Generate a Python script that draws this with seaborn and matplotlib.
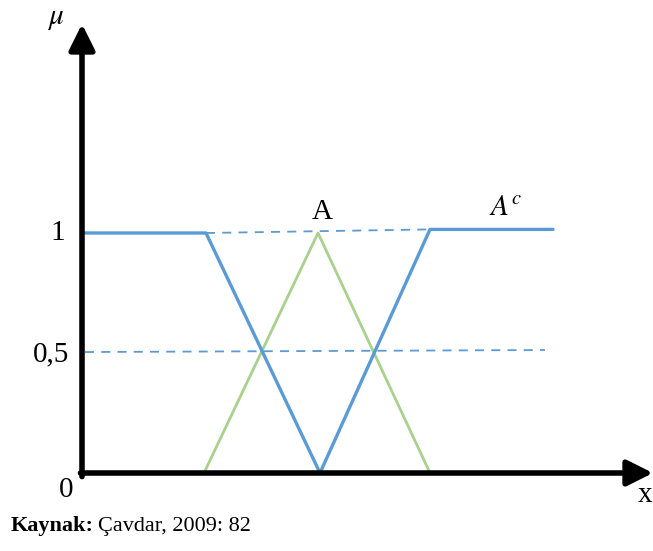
import matplotlib
matplotlib.use("Agg")
import matplotlib.pyplot as plt
import seaborn as sns
import pandas as pd

sns.set_theme(style="white")
plt.rcParams['font.family'] = ['Liberation Serif', 'DejaVu Serif']
plt.rcParams['mathtext.fontset'] = 'stix'
plt.rcParams['text.color'] = 'black'

# Data (x in arbitrary units, mu membership)
comp_x = [0.0, 1.24, 2.38, 3.48, 4.71]          # A^c (complement)
comp_mu = [1.0, 1.0, 0.0, 1.015, 1.015]
a_x = [1.22, 2.36, 3.48]                         # A (triangle)
a_mu = [0.0, 1.0, 0.0]
dash1_x = [1.24, 3.48]
dash1_mu = [1.0, 1.015]
dash05_x = [0.03, 4.63]
dash05_mu = [0.504, 0.5125]
ytick_vals = [1.0, 0.5, 0.0]
ytick_labels = ["1", "0,5", "0"]

blue = "#5B9BD5"
green = "#A9D18E"

fig = plt.figure(figsize=(6.53, 5.51), dpi=100)
ax = fig.add_axes([0, 0, 1, 1])
ax.set_xlim(-0.82, 5.71)
ax.set_ylim((473 - 551) / 240, 473 / 240)
ax.axis("off")

# dashed guides
d1 = pd.DataFrame({"x": dash1_x, "mu": dash1_mu})
d05 = pd.DataFrame({"x": dash05_x, "mu": dash05_mu})
sns.lineplot(data=d1, x="x", y="mu", ax=ax, color=blue, lw=1.3, sort=False, estimator=None)
ax.lines[-1].set_dashes([5, 4])
sns.lineplot(data=d05, x="x", y="mu", ax=ax, color=blue, lw=1.3, sort=False, estimator=None)
ax.lines[-1].set_dashes([5, 4])

# membership functions
dfa = pd.DataFrame({"x": a_x, "mu": a_mu})
dfc = pd.DataFrame({"x": comp_x, "mu": comp_mu})
sns.lineplot(data=dfa, x="x", y="mu", ax=ax, color=green, lw=2.0, sort=False, estimator=None)
sns.lineplot(data=dfc, x="x", y="mu", ax=ax, color=blue, lw=2.4, sort=False, estimator=None)

# axes arrows
astyle = "-|>,head_length=1.3,head_width=0.65"
ax.annotate("", xy=(5.71, 0), xytext=(-0.015, 0),
            arrowprops=dict(arrowstyle=astyle, lw=4, color="black", shrinkA=0, shrinkB=0))
ax.annotate("", xy=(0, (473 - 24) / 240), xytext=(0, -0.015),
            arrowprops=dict(arrowstyle=astyle, lw=4, color="black", shrinkA=0, shrinkB=0))

# tick labels
ax.text(-0.17, 1.0, ytick_labels[0], ha="right", va="center", fontsize=21, color="black")
ax.text(-0.13, 0.5 - 0.005, ytick_labels[1], ha="right", va="center", fontsize=21, color="black")
ax.text(-0.09, -0.07, ytick_labels[2], ha="right", va="center", fontsize=21, color="black")

ax.text(-0.25, (473 - 19) / 240, r"$\mu$", ha="center", va="center", fontsize=21, color="black")
ax.text(5.63, (473 - 495) / 240, "x", ha="center", va="center", fontsize=21, color="black")
ax.text(2.40, (473 - 212) / 240, "A", ha="center", va="center", fontsize=21, color="black")
ax.text(4.24, (473 - 208) / 240, r"$A^c$", ha="center", va="center", fontsize=21, color="black")

ax.text(-0.71, (473 - 526) / 240, "Kaynak:", ha="left", va="center", fontsize=16,
        fontweight="bold", color="black")
ax.text(0.16, (473 - 526) / 240, "Çavdar, 2009: 82", ha="left", va="center", fontsize=16,
        color="black")

fig.savefig("out.png", dpi=100)
